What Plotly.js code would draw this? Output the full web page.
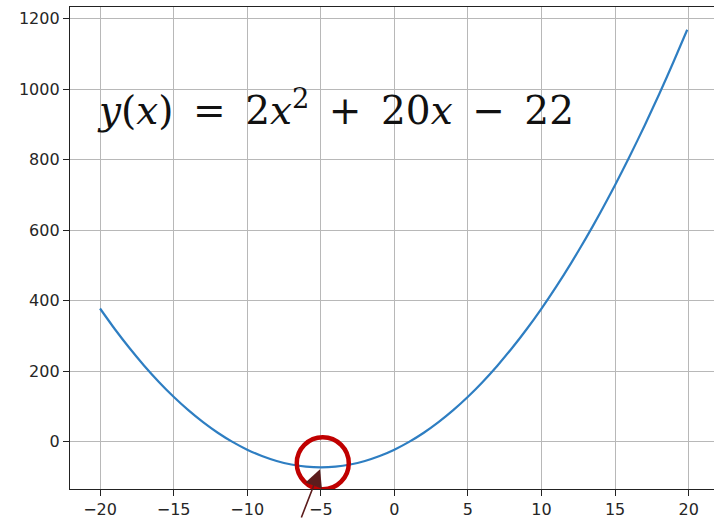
<!DOCTYPE html>
<html>
<head>
<meta charset="utf-8">
<script src="https://cdn.plot.ly/plotly-3.0.1.min.js"></script>
<style>
  html, body { margin: 0; padding: 0; background: #ffffff; }
  #chart { width: 714px; height: 519px; }
</style>
</head>
<body>
<div id="chart"></div>
<script>
// Samples of y(x) = 2x^2 + 20x - 22
const xValues = [-20, -19, -18, -17, -16, -15, -14, -13, -12, -11, -10, -9, -8, -7, -6,
  -5, -4, -3, -2, -1, 0, 1, 2, 3, 4, 5, 6, 7, 8, 9, 10, 11, 12, 13, 14, 15, 16, 17, 18, 19, 19.9];
const yValues = [378, 320, 266, 216, 170, 128, 90, 56, 26, 0, -22, -40, -54, -64, -70,
  -72, -70, -64, -54, -40, -22, 0, 26, 56, 90, 128, 170, 216, 266, 320, 378, 440, 506, 576,
  650, 728, 810, 896, 986, 1080, 1168];

// Vertex of the parabola
const vertexX = [-5];
const vertexY = [-72];

const xTickVals = [-20, -15, -10, -5, 0, 5, 10, 15, 20];
const xTickText = ['\u221220', '\u221215', '\u221210', '\u22125', '0', '5', '10', '15', '20'];
const yTickVals = [0, 200, 400, 600, 800, 1000, 1200];
const yTickText = ['0', '200', '400', '600', '800', '1000', '1200'];

const tickFont = { family: 'DejaVu Sans', size: 16, color: '#262626' };

// en spaces give the operators some room
const sp = '\u2002';
const equation = '<i>y</i>(<i>x</i>)' + sp + '=' + sp + '2<i>x</i><sup>2</sup>' + sp + '+' + sp +
  '20<i>x</i>' + sp + '\u2212' + sp + '22';

const trace = {
  x: xValues,
  y: yValues,
  type: 'scatter',
  mode: 'lines',
  line: { color: '#2e7ec2', width: 2.2, shape: 'spline', smoothing: 0.6 },
  hoverinfo: 'skip'
};

const layout = {
  width: 714,
  height: 519,
  margin: { l: 70, r: 0, t: 7, b: 30, pad: 0 },
  paper_bgcolor: '#ffffff',
  plot_bgcolor: '#ffffff',
  showlegend: false,
  xaxis: {
    range: [-22.04, 21.72],
    tickvals: xTickVals,
    ticktext: xTickText,
    ticks: 'outside',
    ticklen: 6,
    tickwidth: 1,
    tickcolor: '#222',
    tickfont: tickFont,
    showgrid: true,
    gridcolor: '#b8b8b8',
    gridwidth: 1,
    zeroline: false,
    showline: true,
    linecolor: '#222',
    linewidth: 1.2,
    mirror: true
  },
  yaxis: {
    range: [-133.5, 1232.5],
    tickvals: yTickVals,
    ticktext: yTickText,
    ticks: 'outside',
    ticklen: 6,
    tickwidth: 1,
    tickcolor: '#222',
    tickfont: tickFont,
    showgrid: true,
    gridcolor: '#b8b8b8',
    gridwidth: 1,
    zeroline: false,
    showline: true,
    linecolor: '#222',
    linewidth: 1.2,
    mirror: false
  },
  shapes: [
    {
      type: 'circle',
      xref: 'x', yref: 'y',
      xsizemode: 'pixel', ysizemode: 'pixel',
      xanchor: vertexX[0], yanchor: vertexY[0],
      x0: -24, x1: 28, y0: -22, y1: 30,
      line: { color: '#c00000', width: 4.5 },
      fillcolor: 'rgba(0,0,0,0)',
      layer: 'above'
    }
  ],
  annotations: [
    {
      xref: 'paper', yref: 'paper',
      x: 0.413, y: 0.79,
      xanchor: 'center', yanchor: 'middle',
      showarrow: false,
      text: equation,
      font: { family: 'DejaVu Serif', size: 39, color: '#111' }
    },
    {
      xref: 'x', yref: 'y',
      x: vertexX[0], y: vertexY[0],
      ax: -20, ay: 60,
      showarrow: true,
      arrowhead: 2,
      arrowsize: 2.2,
      arrowwidth: 1.6,
      arrowcolor: '#5c1c1c',
      standoff: 2,
      text: ''
    }
  ]
};

Plotly.newPlot('chart', [trace], layout, { displayModeBar: false, staticPlot: true });
</script>
</body>
</html>
